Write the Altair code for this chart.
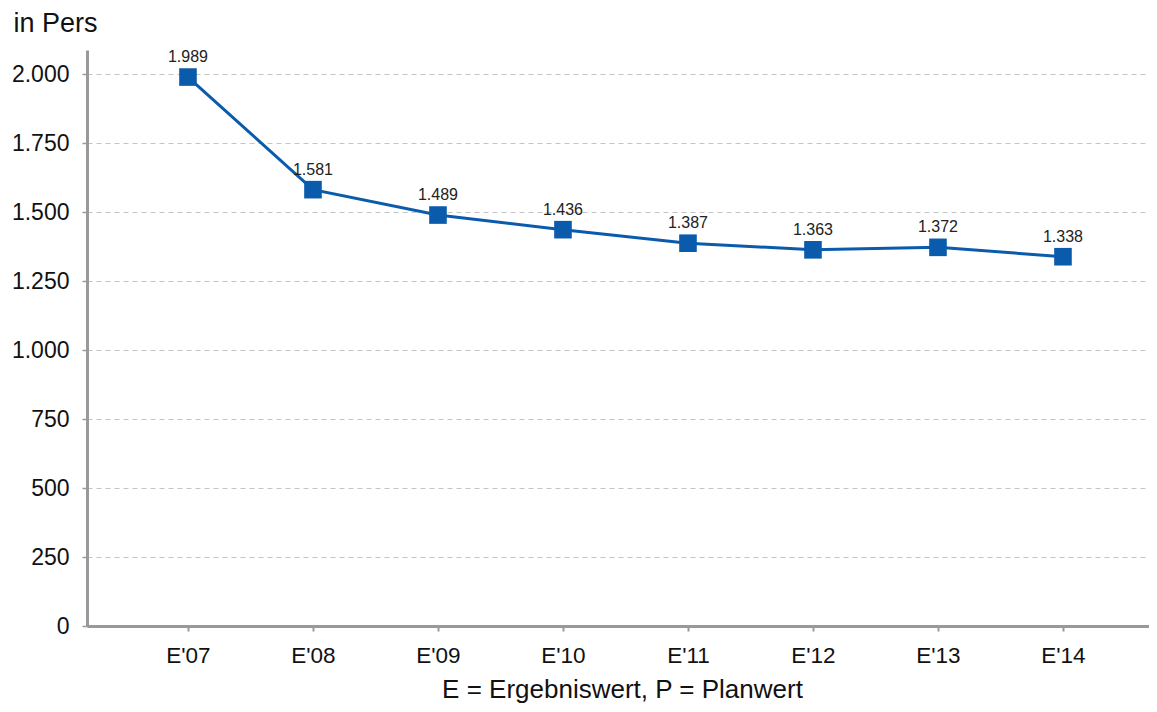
import altair as alt
import pandas as pd

categories = ["E'07", "E'08", "E'09", "E'10", "E'11", "E'12", "E'13", "E'14"]
values = [1989, 1581, 1489, 1436, 1387, 1363, 1372, 1338]
y_ticks = [0, 250, 500, 750, 1000, 1250, 1500, 1750, 2000]

df = pd.DataFrame({"cat": categories, "val": values})

FONT = "Liberation Sans"
BLUE = "#0b5bac"
GRAY = "#999999"

x = alt.X(
    "cat:N",
    sort=categories,
    scale=alt.Scale(type="point", padding=0.748, align=0.54),
    axis=alt.Axis(
        title="E = Ergebniswert, P = Planwert",
        titleFont=FONT, titleFontSize=26, titleFontWeight="normal", titleColor="#111",
        titleBaseline="alphabetic", titleY=71, titleX=535,
        labelFont=FONT, labelFontSize=22.5, labelColor="#111", labelPadding=13,
        labelAngle=0,
        grid=False, domainColor=GRAY, domainWidth=3,
        tickColor=GRAY, tickSize=5, tickWidth=2,
    ),
)
y = alt.Y(
    "val:Q",
    scale=alt.Scale(domain=[0, 2087], nice=False, zero=True),
    axis=alt.Axis(
        title="in Pers", titleAngle=0, titleAlign="left", titleBaseline="alphabetic",
        titleX=-74, titleY=-19,
        titleFont=FONT, titleFontSize=27, titleFontWeight="normal", titleColor="#111",
        values=y_ticks,
        labelExpr="replace(format(datum.value, ','), ',', '.')",
        labelFont=FONT, labelFontSize=23, labelColor="#111", labelPadding=13,
        grid=True, gridColor="#c4c4c4", gridDash=[5, 4], gridWidth=1,
        domainColor=GRAY, domainWidth=3,
        tickColor=GRAY, tickSize=5, tickWidth=1.5,
    ),
)

base = alt.Chart(df).encode(x=x, y=y)

line = base.mark_line(color=BLUE, strokeWidth=3)
pts = base.mark_square(color=BLUE, size=310, opacity=1, filled=True)
labels = base.transform_calculate(
    lab="replace(format(datum.val, ','), ',', '.')"
).mark_text(
    font=FONT, fontSize=16, color="#222", dy=-15, baseline="alphabetic"
).encode(text="lab:N")

chart = (
    alt.layer(line, pts, labels)
    .properties(
        width=1062, height=576,
        autosize=alt.AutoSizeParams(type="none"),
        padding={"left": 79, "top": 42, "right": 0, "bottom": 78},
    )
    .configure_view(stroke=None)
)

chart.save("out.html", embed_options={"renderer": "svg", "actions": False})
